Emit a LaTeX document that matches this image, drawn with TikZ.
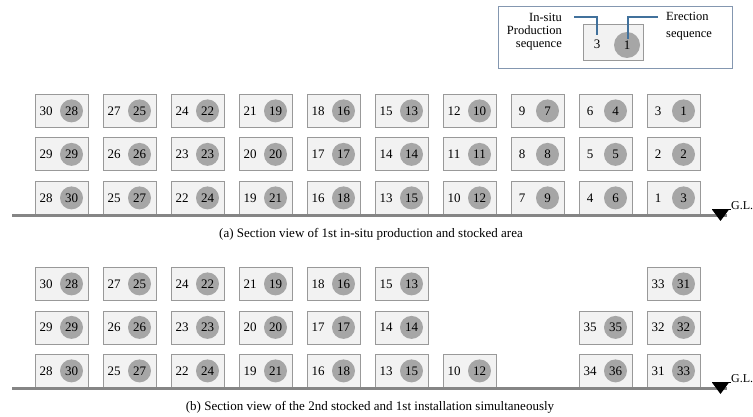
\documentclass[tikz,border=0pt]{standalone}
\usepackage{fontspec}
\setmainfont{Liberation Serif}
\definecolor{boxline}{HTML}{999999}
\definecolor{boxfill}{HTML}{F2F2F2}
\definecolor{dotfill}{HTML}{A6A6A6}
\definecolor{groundc}{HTML}{858585}
\definecolor{legendline}{HTML}{8497B0}
\definecolor{leaderc}{HTML}{41719C}
\newcommand\numfont{\fontsize{13}{13}\selectfont}
\newcommand\keyfont{\fontsize{12.5}{13}\selectfont}
\tikzset{
  blk/.style={draw=boxline, fill=boxfill, line width=0.8pt, minimum width=53pt,
    minimum height=33pt, inner sep=0pt, anchor=north west},
  seqdot/.style={circle, fill=dotfill, minimum size=23pt, inner sep=0pt, font=\numfont},
  prodnum/.style={inner sep=0pt, font=\numfont},
  ground/.style={draw=groundc, line width=3pt},
  leader/.style={draw=leaderc, line width=1.2pt},
  glabel/.style={inner sep=0pt, font=\fontsize{12}{12}\selectfont, anchor=base west},
  caption/.style={inner sep=0pt, font=\numfont},
}
% one precast unit: name, left x, top y, production number, erection number
\newcommand\pcunit[5]{%
  \node[blk] (#1) at (#2,#3) {};
  \node[prodnum] (#1-p) at ([xshift=11pt]#1.west) {#4};
  \node[seqdot] (#1-e) at ([xshift=36.5pt]#1.west) {#5};
}
\begin{document}
\begin{tikzpicture}[x=1pt,y=-1pt]
\useasboundingbox (0,0) rectangle (753,417);

% ---------- legend ----------
\node[draw=legendline, line width=0.8pt, minimum width=234pt, minimum height=62pt,
  inner sep=0pt, anchor=north west] (legend) at (498,6) {};
\node[blk, minimum width=60pt, minimum height=36pt] (key) at (583,24) {};
\node[prodnum] (key-p) at (597,44) {3};
\node[seqdot, minimum size=26pt] (key-e) at (627,45) {1};
\node[anchor=east, align=right, inner sep=0pt, font=\keyfont] (key-plabel) at (562,32)
  {In-situ\\Production\\sequence};
\node[anchor=west, align=left, inner sep=0pt, font=\fontsize{12.5}{17}\selectfont]
  (key-elabel) at (666,26) {Erection\\sequence};
\coordinate (pl) at (574,17);
\coordinate (el) at (658,17);
\draw[leader] (pl) -| ([yshift=4pt]key-p.north);
\draw[leader] (el) -| ([xshift=1pt,yshift=-7pt]key-e.north);

% ---------- (a) first in-situ production and stocked area ----------
\foreach \c in {1,...,10}{
  \pgfmathtruncatemacro\k{10-\c}
  \pgfmathsetmacro\xl{35+68*(\c-1)}
  \pgfmathtruncatemacro\pa{3*\k+3}
  \pgfmathtruncatemacro\pb{3*\k+2}
  \pgfmathtruncatemacro\pc{3*\k+1}
  \pcunit{a-\c-t}{\xl}{94}{\pa}{\pc}
  \pcunit{a-\c-m}{\xl}{137.5}{\pb}{\pb}
  \pcunit{a-\c-b}{\xl}{181}{\pc}{\pa}
}
\draw[ground] (12,215.5) -- (727,215.5);
\node[glabel] (gl-a) at (731,209.5) {G.L.};
\fill (712,209.5) -- (729,209.5) -- (720.5,221) -- cycle;
\draw[line width=0.6pt] (712,209.5) -- (gl-a.base west);
\node[caption] (cap-a) at (371,234) {(a) Section view of 1st in-situ production and stocked area};

% ---------- (b) second stocked and first installation ----------
\foreach \c in {1,...,6}{
  \pgfmathtruncatemacro\k{10-\c}
  \pgfmathsetmacro\xl{35+68*(\c-1)}
  \pgfmathtruncatemacro\pa{3*\k+3}
  \pgfmathtruncatemacro\pb{3*\k+2}
  \pgfmathtruncatemacro\pc{3*\k+1}
  \pcunit{b-\c-t}{\xl}{267}{\pa}{\pc}
  \pcunit{b-\c-m}{\xl}{310.5}{\pb}{\pb}
  \pcunit{b-\c-b}{\xl}{354}{\pc}{\pa}
}
\pcunit{b-7-b}{443}{354}{10}{12}
\pcunit{b-9-m}{579}{310.5}{35}{35}
\pcunit{b-9-b}{579}{354}{34}{36}
\pcunit{b-10-t}{647}{267}{33}{31}
\pcunit{b-10-m}{647}{310.5}{32}{32}
\pcunit{b-10-b}{647}{354}{31}{33}
\draw[ground] (12,388.5) -- (727,388.5);
\node[glabel] (gl-b) at (731,382.5) {G.L.};
\fill (712,382.5) -- (729,382.5) -- (720.5,394) -- cycle;
\draw[line width=0.6pt] (712,382.5) -- (gl-b.base west);
\node[caption] (cap-b) at (370,407) {(b) Section view of the 2nd stocked and 1st installation simultaneously};
\end{tikzpicture}
\end{document}
